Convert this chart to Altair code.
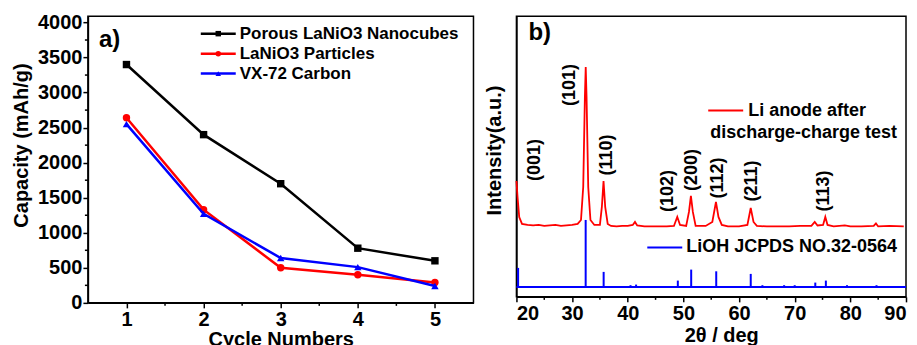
import altair as alt
import pandas as pd

FONT = "Liberation Sans"

# ---------------- panel a) data ----------------
cycles = [1, 2, 3, 4, 5]
porous = [3400, 2400, 1700, 780, 600]
particles = [2640, 1330, 500, 400, 290]
carbon = [2550, 1270, 640, 510, 240]
series_names = ["Porous LaNiO3 Nanocubes", "LaNiO3 Particles", "VX-72 Carbon"]
series_colors = ["#000000", "#ff0000", "#0000ff"]
series_shapes = ["square", "circle", "triangle-up"]
cycle_ticks = [1, 2, 3, 4, 5]
cycle_minor = [1.5, 2.5, 3.5, 4.5]
cap_ticks = [0, 500, 1000, 1500, 2000, 2500, 3000, 3500, 4000]
cap_minor = [250, 750, 1250, 1750, 2250, 2750, 3250, 3750]

# ---------------- panel b) data ----------------
xrd_angle = [20.0, 20.2, 20.5, 21.0, 22, 23, 24, 25, 26, 27, 28, 29, 30, 31, 31.6,
             32.0, 32.3, 32.45, 32.6, 32.9, 33.3, 34, 35.0, 35.35, 35.65, 35.95, 36.4,
             37, 38, 39, 40, 40.9, 41.3, 41.7, 43, 45, 47, 48.3, 48.9, 49.4, 50.5,
             51.0, 51.35, 51.7, 52.2, 54, 55.2, 55.85, 56.3, 56.9, 58, 60, 61.5, 62.1,
             62.6, 63.2, 65, 67, 69, 71, 73, 73.6, 74.1, 75.1, 75.5, 75.9, 77, 79, 80,
             82, 84.2, 84.6, 85.0, 87, 89.6]
xrd_int = [116, 100, 80, 73, 72, 71.5, 72, 71, 71.5, 72, 71, 71.5, 72, 73, 77,
           110, 200, 230, 200, 110, 77, 72, 72, 90, 116, 90, 73,
           71, 70.5, 71, 71, 72, 75, 71.5, 70.5, 70.5, 70.5, 71, 80, 72, 71,
           85, 101, 85, 71, 71, 75, 95, 80, 72, 70.5, 70.5, 72, 89,
           75, 71, 70.5, 70.5, 70.5, 71, 71, 75, 71.5, 72, 80, 72, 70.5, 71.5, 70.5,
           70.5, 71, 73.5, 70.5, 71, 70.5]
stick_angle = [20.3, 32.44, 35.67, 40.5, 41.5, 49.0, 51.4, 55.9, 62.1, 64.2, 68.1,
               70.0, 73.7, 75.6, 79.4, 84.7]
stick_int = [29, 77, 25, 11.7, 12.3, 16.3, 27.3, 25.6, 23, 11.7, 11.7, 11.7, 14.3,
             16.3, 11.7, 11.7]
stick_base = 10
peak_labels = ["(001)", "(101)", "(110)", "(102)", "(200)", "(112)", "(211)", "(113)"]
peak_label_x = [23.3, 29.7, 36.2, 47.2, 51.5, 56.2, 62.4, 75.3]
peak_label_y = [137, 212, 142, 106, 127, 119, 116, 106]
angle_ticks = [20, 30, 40, 50, 60, 70, 80, 90]
angle_minor = [25, 35, 45, 55, 65, 75, 85]

W1, H1 = 386, 287
W2, H2 = 390, 281

# ================= panel a =================
xa = alt.Scale(domain=[0.5, 5.5], nice=False, zero=False)
ya = alt.Scale(domain=[0, 4090], nice=False)
x_axis_a = alt.Axis(values=cycle_ticks, format="d", title="Cycle Numbers", tickSize=5,
                    labelFontSize=20, titleFontSize=20, labelPadding=2, titlePadding=0,
                    labelOverlap=False)
y_axis_a = alt.Axis(values=cap_ticks, format="d", title="Capacity (mAh/g)", tickSize=5,
                    labelFontSize=20, titleFontSize=20, labelPadding=1, titlePadding=6,
                    labelOverlap=False, titleY=129)

layers_a = []
for vals, name, col, shp in zip([porous, particles, carbon], series_names,
                                series_colors, series_shapes):
    df = pd.DataFrame({"cycle": cycles, "capacity": vals})
    base = alt.Chart(df).encode(
        x=alt.X("cycle:Q", scale=xa, axis=x_axis_a),
        y=alt.Y("capacity:Q", scale=ya, axis=y_axis_a),
    )
    layers_a.append(base.mark_line(color=col, strokeWidth=2.5))
    layers_a.append(base.mark_point(shape=shp, filled=True, size=55, color=col, opacity=1))

# minor ticks
layers_a.append(alt.Chart(pd.DataFrame({"cycle": cycle_minor})).mark_rule(
    color="black", strokeWidth=1.5).encode(
    x=alt.X("cycle:Q", scale=xa, axis=x_axis_a), y=alt.value(H1), y2=alt.value(H1 + 3)))
layers_a.append(alt.Chart(pd.DataFrame({"capacity": cap_minor})).mark_rule(
    color="black", strokeWidth=1.5).encode(
    y=alt.Y("capacity:Q", scale=ya, axis=y_axis_a), x=alt.value(0), x2=alt.value(-3)))

# legend
for i, (name, col, shp) in enumerate(zip(series_names, series_colors, series_shapes)):
    yy = 17.5 + 20 * i
    d = pd.DataFrame({"label": [name]})
    layers_a.append(alt.Chart(d).mark_rule(color=col, strokeWidth=2.5).encode(
        x=alt.value(113), x2=alt.value(148), y=alt.value(yy)))
    layers_a.append(alt.Chart(d).mark_point(shape=shp, filled=True, size=30, color=col,
                                            opacity=1).encode(
        x=alt.value(130.5), y=alt.value(yy)))
    layers_a.append(alt.Chart(d).mark_text(align="left", baseline="middle", font=FONT,
                                           fontSize=17, fontWeight="bold", color="black").encode(
        x=alt.value(152), y=alt.value(yy), text="label:N"))

layers_a.append(alt.Chart(pd.DataFrame({"t": ["a)"]})).mark_text(
    align="left", baseline="middle", font=FONT, fontSize=24, fontWeight="bold",
    color="black").encode(x=alt.value(11), y=alt.value(24), text="t:N"))

chart_a = alt.layer(*layers_a).properties(width=W1, height=H1)

# ================= panel b =================
xb = alt.Scale(domain=[20, 90], nice=False, zero=False)
yb = alt.Scale(domain=[0, H2], nice=False)
x_axis_b = alt.Axis(values=angle_ticks, format="d", title="2θ / deg", tickSize=5,
                    labelFontSize=20, titleFontSize=20, labelPadding=2, titlePadding=2,
                    labelOverlap=False, titleX=205)
y_axis_b = alt.Axis(labels=False, ticks=False, title="Intensity(a.u.)", titleFontSize=20,
                    titlePadding=12, titleY=134)

df_xrd = pd.DataFrame({"angle": xrd_angle, "intensity": xrd_int})
red = alt.Chart(df_xrd).mark_line(color="#ff0000", strokeWidth=1.8).encode(
    x=alt.X("angle:Q", scale=xb, axis=x_axis_b),
    y=alt.Y("intensity:Q", scale=yb, axis=y_axis_b),
)

df_base = pd.DataFrame({"angle": [angle_ticks[0]], "angle2": [angle_ticks[-1]],
                        "intensity": [stick_base]})
blue_base = alt.Chart(df_base).mark_rule(color="#0000ff", strokeWidth=2).encode(
    x=alt.X("angle:Q", scale=xb, axis=x_axis_b), x2="angle2:Q",
    y=alt.Y("intensity:Q", scale=yb, axis=y_axis_b))

df_st = pd.DataFrame({"angle": stick_angle, "intensity": [stick_base] * len(stick_angle),
                      "top": stick_int})
sticks = alt.Chart(df_st).mark_rule(color="#0000ff", strokeWidth=2).encode(
    x=alt.X("angle:Q", scale=xb, axis=x_axis_b),
    y=alt.Y("intensity:Q", scale=yb, axis=y_axis_b), y2="top:Q")

df_lab = pd.DataFrame({"angle": peak_label_x, "intensity": peak_label_y, "lab": peak_labels})
labels_b = alt.Chart(df_lab).mark_text(angle=270, align="center", baseline="middle",
                                       font=FONT, fontSize=18, fontWeight="bold",
                                       color="black").encode(
    x=alt.X("angle:Q", scale=xb, axis=x_axis_b),
    y=alt.Y("intensity:Q", scale=yb, axis=y_axis_b), text="lab:N")

minor_b = alt.Chart(pd.DataFrame({"angle": angle_minor})).mark_rule(
    color="black", strokeWidth=1.5).encode(
    x=alt.X("angle:Q", scale=xb, axis=x_axis_b), y=alt.value(H2), y2=alt.value(H2 + 3))

def txt(s, x, y, size=18):
    return alt.Chart(pd.DataFrame({"t": [s]})).mark_text(
        align="left", baseline="middle", font=FONT, fontSize=size, fontWeight="bold",
        color="black").encode(x=alt.value(x), y=alt.value(y), text="t:N")

leg_red = alt.Chart(pd.DataFrame({"t": ["r"]})).mark_rule(color="#ff0000", strokeWidth=2).encode(
    x=alt.value(192), x2=alt.value(227), y=alt.value(94.5))
leg_blue = alt.Chart(pd.DataFrame({"t": ["b"]})).mark_rule(color="#0000ff", strokeWidth=2).encode(
    x=alt.value(131), x2=alt.value(166), y=alt.value(231.5))

chart_b = alt.layer(
    red, blue_base, sticks, labels_b, minor_b,
    leg_red, txt("Li anode after", 232, 94.5), txt("discharge-charge test", 194, 116.5),
    leg_blue, txt("LiOH JCPDS NO.32-0564", 170, 231.5),
    txt("b)", 12, 17, 24),
).properties(width=W2, height=H2)

chart = alt.hconcat(chart_a, chart_b, spacing=9).configure_view(
    stroke="black", strokeWidth=1.5
).configure_axis(
    domainColor="black", domainWidth=1.5, tickColor="black", tickWidth=1.5,
    labelColor="black", titleColor="black", labelFont=FONT, titleFont=FONT,
    labelFontWeight="bold", titleFontWeight="bold", grid=False, labelOverlap=False
).properties(
    padding={"left": 2, "top": 3, "right": 0, "bottom": 0},
    background="white",
)

chart.save("out.html", embed_options={"renderer": "svg", "actions": False})
